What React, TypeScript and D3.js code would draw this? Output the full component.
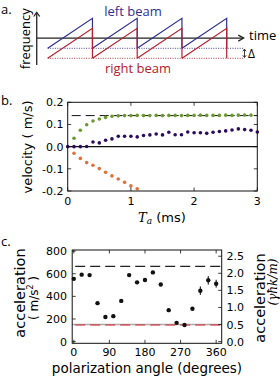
import * as d3 from 'd3';

// ---- panel a: sawtooth frequency ramps ----
const teeth = [0, 1, 2, 3];
const beamNames = ['left beam', 'right beam'];
const beamOffsets = [0, -0.333];

// ---- panel b: velocity vs Ta ----
const timesB = [0, 0.1, 0.2, 0.3, 0.4, 0.5, 0.6, 0.7, 0.8, 0.9, 1.0, 1.1, 1.2, 1.3, 1.4, 1.5,
  1.6, 1.7, 1.8, 1.9, 2.0, 2.1, 2.2, 2.3, 2.4, 2.5, 2.6, 2.7, 2.8, 2.9, 3.0];
const greenVel = [null, 0.038, 0.074, 0.099, 0.116, 0.125, 0.132, 0.137, 0.139, 0.140, 0.140,
  0.141, 0.140, 0.140, 0.141, 0.140, 0.141, 0.141, 0.140, 0.141, 0.141, 0.142, 0.141, 0.141,
  0.141, 0.142, 0.141, 0.142, 0.143, 0.142, null];
const purpleVel = [0.0, 0.0, 0.0, 0.001, 0.021, 0.017, 0.029, 0.035, 0.047, 0.047, 0.047, 0.044,
  0.050, 0.053, 0.057, 0.053, 0.065, 0.054, 0.054, 0.066, 0.063, 0.063, 0.060, 0.065, 0.068,
  0.071, 0.075, 0.080, 0.077, 0.074, 0.066];
const orangeVel = [null, -0.030, -0.053, -0.072, -0.084, -0.099, -0.116, -0.132, -0.146, -0.161,
  -0.177, -0.190];
const limitVel = 0.14;
const velTicks = [0.2, 0.1, 0.0, -0.1, -0.2];
const timeTicks = [0, 1, 2, 3];

// ---- panel c: acceleration vs polarization ----
const angles = [0, 20, 40, 60, 80, 100, 120, 140, 160, 180, 200, 220, 240, 260, 280, 300, 320, 340, 360];
const accel = [555, 592, 588, 340, 217, 225, 360, 588, 524, 545, 612, 505, 278, 166, 147, 290, 450, 542, 512];
const accelErr = [12, 12, 12, 12, 12, 12, 12, 12, 12, 12, 12, 12, 12, 12, 12, 12, 38, 38, 35];
const maxAccel = 665;
const minAccel = 147;
const unitAccel = 302; // m/s^2 per gamma*hbar*k/m
const accelTicks = [0, 200, 400, 600, 800];
const unitTicks = [0, 0.5, 1.0, 1.5, 2.0, 2.5];
const angleTicks = [0, 90, 180, 270, 360];

const BLUE = '#2e2f8f';
const RED = '#b3202c';
const SANS = 'DejaVu Sans, sans-serif';
const HUM = 'Open Sans, sans-serif';

function PanelA() {
  const x = d3.scaleLinear().domain([0, 4]).range([47.7, 226.7]);
  const y = d3.scaleLinear().domain([0, 1]).range([48.3, 18.3]);
  const colors = [BLUE, RED];
  const axX = x(-0.245);
  const axY = y(0.34);
  const xEnd = x(4.37);
  const path = (off: number) => {
    const p = d3.path();
    teeth.forEach((t) => {
      p.moveTo(x(t), y(off));
      p.lineTo(x(t + 1), y(off + 1));
      p.lineTo(x(t + 1), y(off));
    });
    return p.toString();
  };
  return (
    <g>
      <text x={1} y={14} fontFamily={HUM} fontSize={13}>a.</text>
      {/* axes */}
      <line x1={axX} x2={axX} y1={y(-0.56)} y2={y(1.17)} stroke="#222" strokeWidth={1.3} />
      <path d={`M${axX - 3},${y(1.06)} L${axX},${y(1.2)} L${axX + 3},${y(1.06)}`} fill="none" stroke="#222" strokeWidth={1.2} />
      <line x1={axX} x2={xEnd} y1={axY} y2={axY} stroke="#222" strokeWidth={1.3} />
      <path d={`M${xEnd - 5},${axY - 3} L${xEnd + 0.5},${axY} L${xEnd - 5},${axY + 3}`} fill="none" stroke="#222" strokeWidth={1.2} />
      <text x={249} y={40} fontFamily={HUM} fontSize={13}>time</text>
      <text transform={`translate(30,${(y(-0.56) + y(1.2)) / 2}) rotate(-90)`} textAnchor="middle" fontFamily={HUM} fontSize={13}>frequency</text>
      {/* dotted baselines */}
      {beamOffsets.map((o, i) => (
        <line key={'d' + i} x1={x(0)} x2={xEnd} y1={y(o)} y2={y(o)} stroke={colors[i]} strokeWidth={0.9} strokeDasharray="1,1.4" />
      ))}
      {beamOffsets.map((o, i) => (
        <path key={'s' + i} d={path(o)} fill="none" stroke={colors[i]} strokeWidth={1.2} />
      ))}
      {/* delta arrow */}
      <line x1={244.5} x2={244.5} y1={y(0) + 1} y2={y(beamOffsets[1]) - 1} stroke="#222" strokeWidth={0.9} />
      <path d={`M242.8,${y(0) + 3} L244.5,${y(0) + 0.8} L246.2,${y(0) + 3}`} fill="none" stroke="#222" strokeWidth={0.9} />
      <path d={`M242.8,${y(beamOffsets[1]) - 3} L244.5,${y(beamOffsets[1]) - 0.8} L246.2,${y(beamOffsets[1]) - 3}`} fill="none" stroke="#222" strokeWidth={0.9} />
      <text x={248} y={58} fontFamily={HUM} fontSize={12}>Δ</text>
      <text x={133} y={16} textAnchor="middle" fontFamily={HUM} fontSize={13} fill={BLUE}>{beamNames[0]}</text>
      <text x={138} y={73} textAnchor="middle" fontFamily={HUM} fontSize={13} fill={RED}>{beamNames[1]}</text>
    </g>
  );
}

function PanelB() {
  const x = d3.scaleLinear().domain([0, 3]).range([67.7, 257.3]);
  const y = d3.scaleLinear().domain([-0.2, 0.2]).range([191, 102.3]);
  const tl = 3.5;
  const series: [(number | null)[], string][] = [
    [orangeVel, '#e0703c'],
    [purpleVel, '#2b0b5c'],
    [greenVel, '#6a9a2c'],
  ];
  return (
    <g>
      <text x={1} y={105} fontFamily={HUM} fontSize={13}>b.</text>
      <line x1={x(0)} x2={x(3)} y1={y(limitVel)} y2={y(limitVel)} stroke="#111" strokeWidth={1} strokeDasharray="9,5" strokeDashoffset={-4} />
      <line x1={x(0)} x2={x(3)} y1={y(0)} y2={y(0)} stroke="#111" strokeWidth={1.2} />
      {series.map(([vals, c], si) =>
        vals.map((v, i) => v === null ? null : (
          <circle key={si + '-' + i} cx={x(timesB[i])} cy={y(v)} r={1.8} fill={c} />
        ))
      )}
      <rect x={x(0)} y={y(0.2)} width={x(3) - x(0)} height={y(-0.2) - y(0.2)} fill="none" stroke="#111" strokeWidth={1} />
      {velTicks.map((t) => (
        <g key={'v' + t}>
          <line x1={x(0)} x2={x(0) + tl} y1={y(t)} y2={y(t)} stroke="#111" strokeWidth={0.8} />
          <line x1={x(3)} x2={x(3) - tl} y1={y(t)} y2={y(t)} stroke="#111" strokeWidth={0.8} />
          <text x={63.5} y={y(t) + 4} textAnchor="end" fontFamily={SANS} fontSize={11}>{d3.format('.1f')(t).replace('−', '-')}</text>
        </g>
      ))}
      {timeTicks.map((t) => (
        <g key={'t' + t}>
          <line x1={x(t)} x2={x(t)} y1={y(-0.2)} y2={y(-0.2) - tl} stroke="#111" strokeWidth={0.8} />
          <line x1={x(t)} x2={x(t)} y1={y(0.2)} y2={y(0.2) + tl} stroke="#111" strokeWidth={0.8} />
          <text x={x(t)} y={205} textAnchor="middle" fontFamily={SANS} fontSize={11}>{t}</text>
        </g>
      ))}
      <text x={162} y={222} textAnchor="middle" fontSize={13}>
        <tspan fontFamily="DejaVu Serif, serif" fontStyle="italic">T</tspan>
        <tspan fontFamily="DejaVu Serif, serif" fontStyle="italic" fontSize={9} dy={2}>a</tspan>
        <tspan fontFamily={SANS} dy={-2}> (ms)</tspan>
      </text>
      <text transform={`translate(32,147) rotate(-90)`} textAnchor="middle" fontFamily={SANS} fontSize={13}>velocity ( m/s)</text>
    </g>
  );
}

function PanelC() {
  const x = d3.scaleLinear().domain([-4, 374]).range([72.2, 221.7]);
  const y = d3.scaleLinear().domain([-15, 810]).range([343.3, 250]);
  const tl = 3.5;
  const [x0, x1] = x.range();
  const [y0, y1] = y.range();
  return (
    <g>
      <text x={1} y={246} fontFamily={HUM} fontSize={13}>c.</text>
      <line x1={x0} x2={x1} y1={y(maxAccel)} y2={y(maxAccel)} stroke="#222" strokeWidth={1.1} strokeDasharray="10,5" strokeDashoffset={-3} />
      <line x1={x0} x2={x1} y1={y(0.5 * unitAccel)} y2={y(0.5 * unitAccel)} stroke="#aaa" strokeWidth={1.6} />
      <line x1={x0} x2={x1} y1={y(minAccel)} y2={y(minAccel)} stroke="#d0202a" strokeWidth={1.1} strokeDasharray="10,5" strokeDashoffset={-3} />
      {angles.map((a, i) => (
        <g key={'p' + a}>
          <line x1={x(a)} x2={x(a)} y1={y(accel[i] - accelErr[i])} y2={y(accel[i] + accelErr[i])} stroke="#111" strokeWidth={1} />
          <circle cx={x(a)} cy={y(accel[i])} r={2.2} fill="#111" />
        </g>
      ))}
      <rect x={x0} y={y1} width={x1 - x0} height={y0 - y1} fill="none" stroke="#111" strokeWidth={1} />
      {accelTicks.map((t) => (
        <g key={'a' + t}>
          <line x1={x0} x2={x0 + tl} y1={y(t)} y2={y(t)} stroke="#111" strokeWidth={0.8} />
          <text x={67} y={y(t) + 4} textAnchor="end" fontFamily={SANS} fontSize={11}>{t}</text>
        </g>
      ))}
      {unitTicks.map((t) => (
        <g key={'u' + t}>
          <line x1={x1} x2={x1 - tl} y1={y(t * unitAccel)} y2={y(t * unitAccel)} stroke="#111" strokeWidth={0.8} />
          <text x={226.5} y={y(t * unitAccel) + 4} fontFamily={SANS} fontSize={11}>{d3.format('.1f')(t)}</text>
        </g>
      ))}
      {angleTicks.map((t) => (
        <g key={'g' + t}>
          <line x1={x(t)} x2={x(t)} y1={y0} y2={y0 - tl} stroke="#111" strokeWidth={0.8} />
          <line x1={x(t)} x2={x(t)} y1={y1} y2={y1 + tl} stroke="#111" strokeWidth={0.8} />
          <text x={x(t)} y={356} textAnchor="middle" fontFamily={SANS} fontSize={11}>{t}</text>
        </g>
      ))}
      <text x={147} y={373} textAnchor="middle" fontFamily={SANS} fontSize={13.5}>polarization angle (degrees)</text>
      <text transform={`translate(25,293) rotate(-90)`} textAnchor="middle" fontFamily={SANS} fontSize={14.5}>acceleration</text>
      <text transform={`translate(38,298) rotate(-90)`} textAnchor="middle" fontFamily={SANS} fontSize={12}>
        ( m/s<tspan fontSize={8} dy={-5}>2</tspan><tspan dy={5}> )</tspan>
      </text>
      <text transform={`translate(265,298) rotate(-90)`} textAnchor="middle" fontFamily={SANS} fontSize={14.5}>acceleration</text>
      <text transform={`translate(277,282) rotate(-90)`} textAnchor="middle" fontFamily="DejaVu Serif, serif" fontStyle="italic" fontSize={12}>(γħk/m)</text>
    </g>
  );
}

export default function App() {
  return (
    <div style={{ position: 'absolute', left: 0, top: 0 }}>
      <svg width={280} height={377} style={{ display: 'block', background: '#fff' }}>
        <PanelA />
        <PanelB />
        <PanelC />
      </svg>
    </div>
  );
}
